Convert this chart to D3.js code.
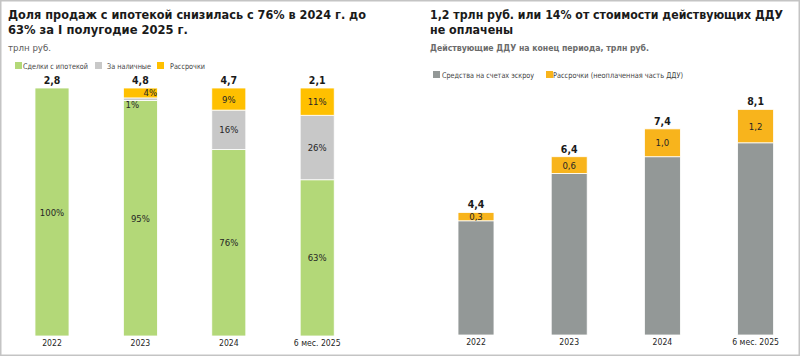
<!DOCTYPE html>
<html><head><meta charset="utf-8">
<script src="https://cdn.jsdelivr.net/npm/d3@7"></script>
<style>
body{margin:0;background:#fff;}
svg{display:block;font-family:"DejaVu Sans Condensed","DejaVu Sans",sans-serif;}
</style></head><body>
<svg id="c" width="800" height="357"></svg>
<script>
// ---- Left chart data ----
const leftCategories = ["2022", "2023", "2024", "6 мес. 2025"];
const leftSeries = ["Сделки с ипотекой", "За наличные", "Рассрочки"];
const mortgageShare = [100, 95, 76, 63];
const cashShare = [0, 1, 16, 26];
const installmentShare = [0, 4, 9, 11];
const leftTotals = [2.8, 4.8, 4.7, 2.1];

// ---- Right chart data ----
const rightCategories = ["2022", "2023", "2024", "6 мес. 2025"];
const rightSeries = ["Средства на счетах эскроу", "Рассрочки (неоплаченная часть ДДУ)"];
const escrowValues = [4.1, 5.8, 6.4, 6.9];
const unpaidValues = [0.3, 0.6, 1.0, 1.2];
const rightTotals = [4.4, 6.4, 7.4, 8.1];

const leftColors = ["#b3d878", "#c8c8c8", "#ffc000"];
const rightColors = ["#939897", "#f8b41c"];
const fmt = v => d3.format(".1f")(v).replace(".", ",");

const svg = d3.select("#c");
svg.append("rect").attr("x",0.75).attr("y",0.75).attr("width",798.5).attr("height",354.5)
  .attr("fill","none").attr("stroke","#c4c4c4").attr("stroke-width",1.5);

function fitText(g, x, y, size, weight, color, str, len){
  const t = g.append("text").attr("x",x).attr("y",y).attr("font-size",size)
    .attr("font-weight",weight).attr("fill",color).text(str);
  if (len) t.attr("textLength",len).attr("lengthAdjust","spacingAndGlyphs");
  return t;
}

// ---------- LEFT ----------
const L = svg.append("g");
fitText(L, 8, 19, 12.6, "bold", "#1a1a1a", "Доля продаж с ипотекой снизилась с 76% в 2024 г. до", 358);
fitText(L, 8, 34, 12.6, "bold", "#1a1a1a", "63% за I полугодие 2025 г.", 180);
fitText(L, 8, 51, 9.5, "normal", "#595959", "трлн руб.", 43);

const leftLegendX = [15, 95, 157];
const leftLegendTx = [8, 12, 13];
const leftLegendW = [65, 44, 35];
leftSeries.forEach((s,i)=>{
  const g = L.append("g").attr("transform",`translate(${leftLegendX[i]},62)`);
  g.append("rect").attr("width",7).attr("height",7).attr("fill",leftColors[i]);
  fitText(g, leftLegendTx[i], 7, 7.8, "normal", "#404040", s, leftLegendW[i]);
});

const leftRows = leftCategories.map((c,i)=>({cat:c, s0:mortgageShare[i], s1:cashShare[i], s2:installmentShare[i]}));
const leftStack = d3.stack().keys(["s0","s1","s2"]).offset(d3.stackOffsetExpand)(leftRows);
const xL = d3.scaleBand().domain(leftCategories).range([7.8, 361.4]).paddingInner(0.615).paddingOuter(0.3075);
const yL = d3.scaleLinear().domain([0,1]).range([336, 88]);

leftStack.forEach((layer,li)=>{
  L.append("g").selectAll("rect").data(layer).join("rect")
    .attr("x", d=>xL(d.data.cat)).attr("width", xL.bandwidth())
    .attr("y", d=>yL(d[1])).attr("height", d=>Math.max(0, yL(d[0])-yL(d[1])))
    .attr("fill", leftColors[li]).attr("stroke","#fff").attr("stroke-width",0.8);
});
const labelShift = {"2023_s1":[-8,5], "2023_s2":[10,0]};
leftStack.forEach((layer,li)=>{
  layer.forEach(d=>{
    const v = d.data[layer.key];
    if (!v) return;
    const sh = labelShift[d.data.cat+"_"+layer.key] || [0,0];
    L.append("text").attr("x", xL(d.data.cat)+xL.bandwidth()/2 + sh[0])
      .attr("y", (yL(d[0])+yL(d[1]))/2 + 3.5 + sh[1])
      .attr("text-anchor","middle").attr("font-size",9.5).attr("fill","#262626").text(v+"%");
  });
});
L.selectAll(".tot").data(leftCategories).join("text")
  .attr("x", c=>xL(c)+xL.bandwidth()/2).attr("y", yL(1)-4)
  .attr("text-anchor","middle").attr("font-size",10.5).attr("font-weight","bold").attr("fill","#1a1a1a")
  .text((c,i)=>fmt(leftTotals[i]));
const axL = L.append("g").attr("transform","translate(0,336)").call(d3.axisBottom(xL).tickSize(0).tickPadding(4));
axL.select(".domain").remove();
axL.selectAll("text").attr("font-size",8.6).attr("fill","#262626").attr("font-family","DejaVu Sans Condensed, DejaVu Sans, sans-serif");

// ---------- RIGHT ----------
const R = svg.append("g");
fitText(R, 430, 19, 12.6, "bold", "#1a1a1a", "1,2 трлн руб. или 14% от стоимости действующих ДДУ", 353);
fitText(R, 430, 34, 12.6, "bold", "#1a1a1a", "не оплачены", 83);
fitText(R, 430, 51, 9.2, "bold", "#6b6b6b", "Действующие ДДУ на конец периода, трлн руб.", 219);
const rightLegendX = [433, 546];
const rightLegendTx = [9, 7];
const rightLegendW = [92, 130];
rightSeries.forEach((s,i)=>{
  const g = R.append("g").attr("transform",`translate(${rightLegendX[i]},71)`);
  g.append("rect").attr("width",7).attr("height",7).attr("fill",rightColors[i]);
  fitText(g, rightLegendTx[i], 7, 7.8, "normal", "#404040", s, rightLegendW[i]);
});

const rightRows = rightCategories.map((c,i)=>({cat:c, a:escrowValues[i], b:unpaidValues[i]}));
const rightStack = d3.stack().keys(["a","b"])(rightRows);
const xR = d3.scaleBand().domain(rightCategories).range([429.4, 802.2]).paddingInner(0.614).paddingOuter(0.307);
const yR = d3.scaleLinear().domain([0,9]).range([335, 84.3]);
rightStack.forEach((layer,li)=>{
  R.append("g").selectAll("rect").data(layer).join("rect")
    .attr("x", d=>xR(d.data.cat)).attr("width", xR.bandwidth())
    .attr("y", d=>yR(d[1])).attr("height", d=>yR(d[0])-yR(d[1]))
    .attr("fill", rightColors[li]).attr("stroke","#fff").attr("stroke-width",0.8);
});
rightStack[1].forEach(d=>{
  R.append("text").attr("x", xR(d.data.cat)+xR.bandwidth()/2)
    .attr("y", (yR(d[0])+yR(d[1]))/2 + 3.5)
    .attr("text-anchor","middle").attr("font-size",9.5).attr("fill","#262626").text(fmt(d.data.b));
});
R.selectAll(".tot").data(rightCategories).join("text")
  .attr("x", c=>xR(c)+xR.bandwidth()/2).attr("y", (c,i)=>yR(rightTotals[i])-4)
  .attr("text-anchor","middle").attr("font-size",10.5).attr("font-weight","bold").attr("fill","#1a1a1a")
  .text((c,i)=>fmt(rightTotals[i]));
const axR = R.append("g").attr("transform","translate(0,335)").call(d3.axisBottom(xR).tickSize(0).tickPadding(4));
axR.select(".domain").remove();
axR.selectAll("text").attr("font-size",8.6).attr("fill","#262626").attr("font-family","DejaVu Sans Condensed, DejaVu Sans, sans-serif");
</script></body></html>
